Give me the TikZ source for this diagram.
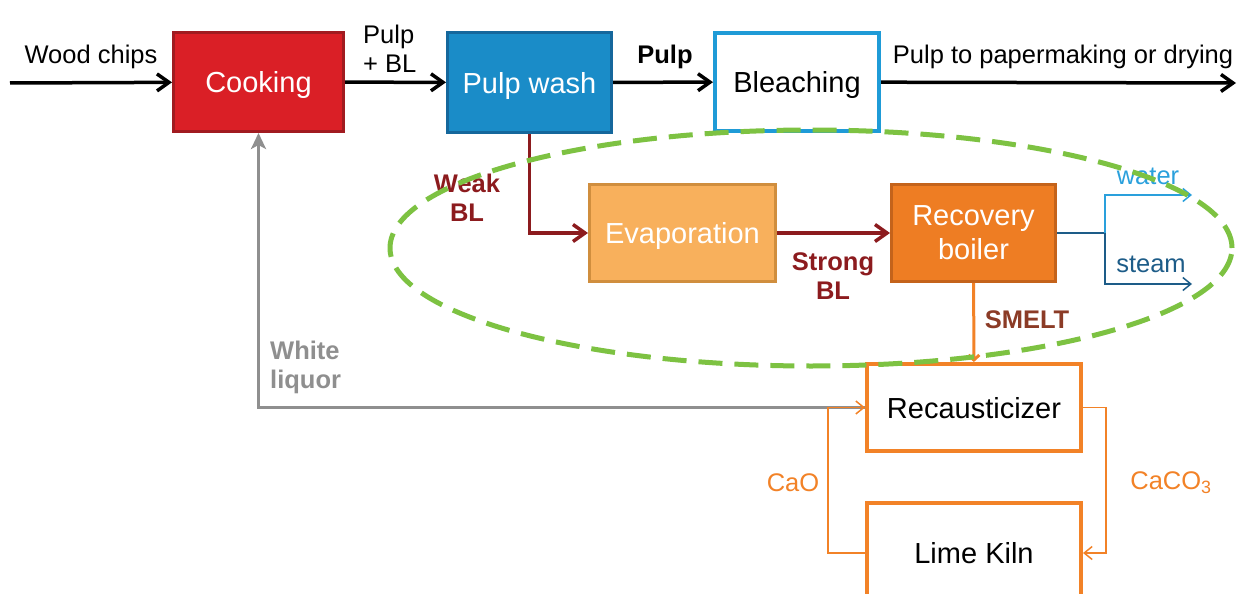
\documentclass[tikz,border=0pt]{standalone}
\usepackage{fontspec}
\setmainfont{Liberation Sans}
\usetikzlibrary{arrows.meta,positioning}

\definecolor{cookred}{HTML}{DA1F26}
\definecolor{cookedge}{HTML}{A11B20}
\definecolor{washblue}{HTML}{1A8CC8}
\definecolor{washedge}{HTML}{15679C}
\definecolor{bleachblue}{HTML}{1F9BD7}
\definecolor{evapfill}{HTML}{F8B05C}
\definecolor{evapedge}{HTML}{D08E3E}
\definecolor{boilfill}{HTML}{EE7D23}
\definecolor{boiledge}{HTML}{C4631B}
\definecolor{limeorange}{HTML}{F28227}
\definecolor{blred}{HTML}{8C1B1E}
\definecolor{smeltbrown}{HTML}{8B3B26}
\definecolor{waterblue}{HTML}{2AA0DC}
\definecolor{steamblue}{HTML}{1D5C88}
\definecolor{liquorgray}{HTML}{8F8F8F}
\definecolor{loopgreen}{HTML}{7DC242}

\tikzset{
  unitbox/.style={draw, line width=3pt, inner sep=0pt, align=center, text depth=0pt,
    font=\fontsize{29}{34}\selectfont},
  lbl/.style={inner sep=0pt, font=\fontsize{25.5}{29}\selectfont},
  boldlbl/.style={inner sep=0pt, align=center, font=\fontsize{25.5}{29}\selectfont\bfseries},
  flow/.style={line width=3.5pt, -{Straight Barb[length=12pt,width=17pt]}},
  thinflow/.style={line width=1.5pt, -{Straight Barb[length=8pt,width=13pt]}},
}

\begin{document}
\begin{tikzpicture}[x=1pt,y=-1pt]
\useasboundingbox (0,0) rectangle (1237,594);

% process units
\node[unitbox, fill=cookred, draw=cookedge, text=white, minimum width=170pt, minimum height=99pt] (cook) at (258.5,82) {Cooking};
\node[unitbox, fill=washblue, draw=washedge, text=white, minimum width=164pt, minimum height=100pt] (wash) at (529.5,82.5) {Pulp wash};
\node[unitbox, draw=bleachblue, line width=4pt, minimum width=164pt, minimum height=98pt] (bleach) at (797,82) {Bleaching};
\node[unitbox, fill=evapfill, draw=evapedge, text=white, minimum width=186pt, minimum height=97pt] (evap) at (682.5,233) {Evaporation};
\node[unitbox, fill=boilfill, draw=boiledge, text=white, minimum width=164pt, minimum height=97pt] (boiler) at (973.5,233) {Recovery\\boiler};
\node[unitbox, draw=limeorange, line width=4pt, minimum width=214pt, minimum height=87pt] (recaus) at (974,407.5) {Recausticizer};
\node[unitbox, draw=limeorange, line width=4pt, minimum width=214pt, minimum height=100pt] (kiln) at (974,553) {Lime Kiln};

% labels
\node[lbl] (woodlbl) at (91,57) {Wood chips};
\node[lbl, align=left, anchor=west] (pulpbllbl) at (363,49) {Pulp\\+ BL};
\node[boldlbl] (pulplbl) at (665,57) {Pulp};
\node[lbl] (outlbl) at (1063,57) {Pulp to papermaking or drying};
\node[boldlbl, text=blred] (weaklbl) at (467,198) {Weak\\BL};
\node[boldlbl, text=blred] (stronglbl) at (833,276) {Strong\\BL};
\node[boldlbl, text=smeltbrown] (smeltlbl) at (1027,320) {SMELT};
\node[boldlbl, text=liquorgray, align=left, anchor=west] (liquorlbl) at (270,367) {White\\liquor};
\node[lbl, text=waterblue] (waterlbl) at (1148,176) {water};
\node[lbl, text=steamblue] (steamlbl) at (1151,264) {steam};
\node[lbl, text=limeorange] (caolbl) at (793,483) {CaO};
\node[lbl, text=limeorange] (caco3lbl) at (1171,483) {CaCO\textsubscript{3}};

% main line
\coordinate (chipsin) at (10,83);
\coordinate (pulpout) at (1236,83);
\draw[flow] (chipsin) -- (cook);
\draw[flow] (cook) -- (wash);
\draw[flow] (wash) -- (bleach);
\draw[flow] (bleach) -- (pulpout);

% black liquor
\draw[flow, draw=blred] (wash.south) |- (evap);
\draw[flow, draw=blred] (evap) -- (boiler);

% water / steam
\coordinate (split) at (1105,233);
\coordinate (waterout) at (1192,195);
\coordinate (steamout) at (1192,284);
\draw[line width=1.5pt, steamblue] (boiler) -- (split);
\draw[thinflow, waterblue] (split) |- (waterout);
\draw[thinflow, steamblue] (split) |- (steamout);

% smelt and white liquor
\draw[line width=3pt, limeorange, -{Straight Barb[length=5pt,width=11pt]}] (boiler) -- (recaus);
\draw[line width=3pt, liquorgray, -{Stealth[length=16pt,width=15pt,inset=4pt]}] (recaus) -| (cook);

% lime loop
\draw[thinflow, limeorange] (kiln.west) -- ++(-37,0) |- (recaus.west);
\draw[thinflow, limeorange] (recaus.east) -- ++(23,0) |- (kiln.east);

% recovery loop
\draw[loopgreen, line width=5pt, dash pattern=on 24pt off 12pt] (811,248) ellipse [x radius=421pt, y radius=118pt];
\end{tikzpicture}
\end{document}
